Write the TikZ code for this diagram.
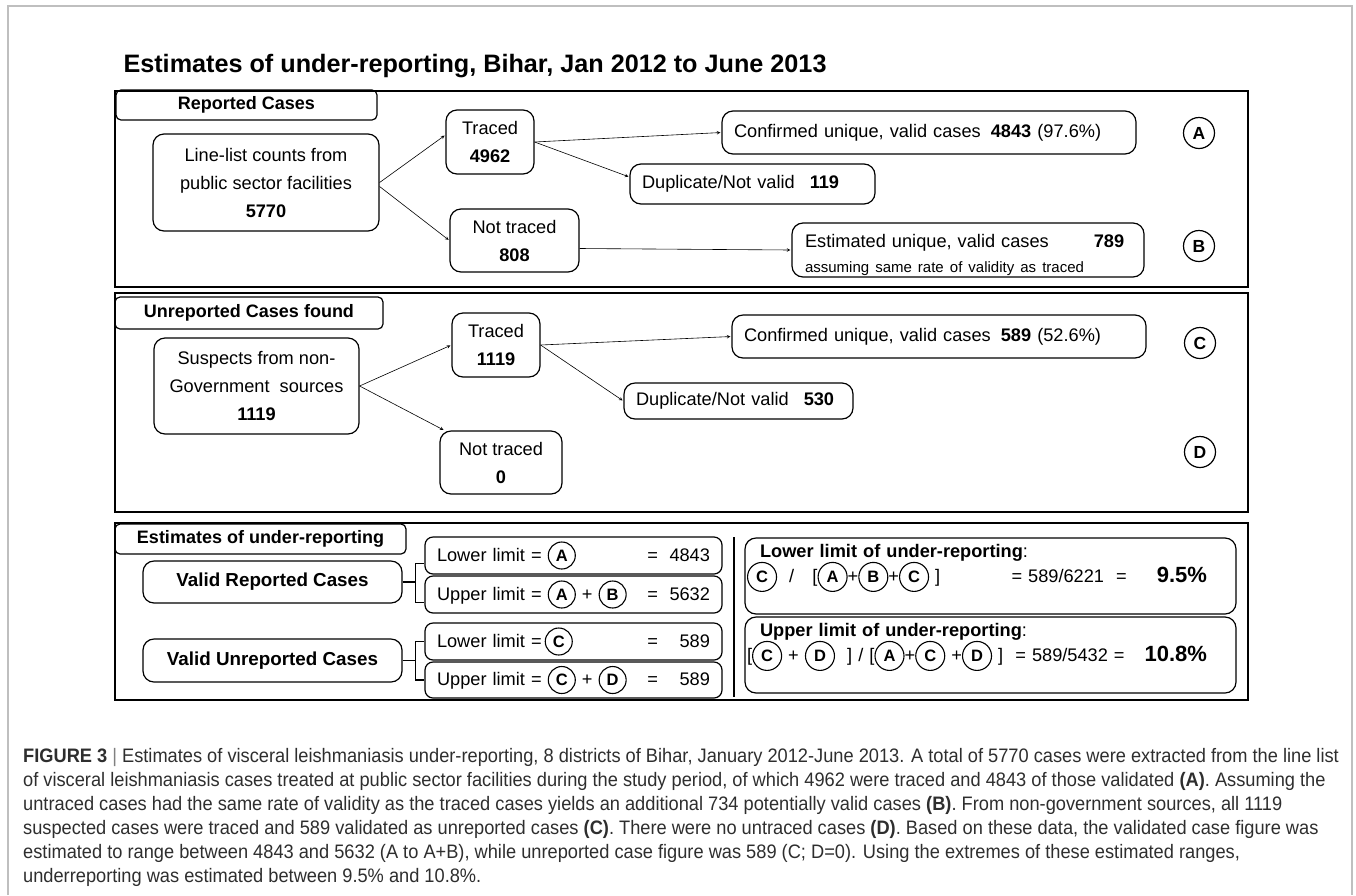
\documentclass[tikz,border=0pt]{standalone}
\usepackage{fontspec}
\setmainfont{Liberation Sans}
\newfontfamily\capfont[FakeStretch=0.935]{Liberation Sans}
\usetikzlibrary{positioning}

% small circled letter used inside the formula boxes
\newcommand{\circlbl}[2][27pt]{\tikz[baseline=(o.base)]\node[circle,draw,line width=1.1pt,inner sep=0pt,minimum size=#1,font=\bfseries\fontsize{16.5}{16}\selectfont] (o) {#2};}

\begin{document}
\begin{tikzpicture}[x=1pt,y=-1pt,>=stealth,
  panel/.style={draw,line width=1.4pt},
  hdr/.style={draw,rounded corners=5pt,line width=1.2pt,inner sep=0pt,font=\bfseries\fontsize{18}{20}\selectfont},
  box/.style={draw,rounded corners=11pt,line width=1.2pt,inner sep=0pt,align=center,font=\fontsize{18.2}{28}\selectfont},
  lbox/.style={box,align=left,inner xsep=12pt},
  lim/.style={box,rounded corners=8pt,align=left,inner xsep=12pt,text width=273pt,minimum height=37pt},
  frm/.style={box,align=left,inner xsep=2pt,text width=487pt,minimum height=76pt,font=\fontsize{18.2}{25}\selectfont},
  lbl/.style={circle,draw,line width=1.2pt,inner sep=0pt,minimum size=31pt,font=\bfseries\fontsize{17.5}{17}\selectfont},
  flow/.style={->,line width=0.6pt,shorten >=1pt}]
  \useasboundingbox (0,0) rectangle (1356,895);
  \draw[gray!50,line width=1.5pt] (8,895) -- (8,6) -- (1352,6) -- (1352,895);

  \node[anchor=base west,font=\bfseries\fontsize{25.2}{26}\selectfont] (title) at (120,72)
    {Estimates of under-reporting, Bihar, Jan 2012 to June 2013};

  % reported cases
  \draw[panel] (115,91) rectangle (1248,287);
  \node[hdr,minimum width=261pt,minimum height=30pt] (h1) at (246.5,105) {Reported Cases};
  \node[box,minimum width=226pt,minimum height=97pt] (ll) at (266,182.5)
    {Line-list counts from\\public sector facilities\\\textbf{5770}};
  \node[box,minimum width=88pt,minimum height=64pt] (tr1) at (490,142) {Traced\\\textbf{4962}};
  \node[box,minimum width=129pt,minimum height=63pt] (nt1) at (514.5,240.5) {Not traced\\\textbf{808}};
  \node[lbox,text width=390pt,minimum height=43pt] (va) at (929,132.5)
    {Confirmed unique, valid cases\hspace{10pt}\textbf{4843} (97.6\%)};
  \node[lbox,text width=221pt,minimum height=40pt] (dup1) at (752.5,184)
    {Duplicate/Not valid\hspace{15pt}\textbf{119}};
  \node[lbox,inner xsep=13pt,text width=326pt,minimum height=54pt,font=\fontsize{18.2}{26}\selectfont] (vb) at (968,250)
    {\rule{0pt}{23pt}Estimated unique, valid cases\hspace{45pt}\textbf{789}\\[-1pt]{\fontsize{15}{16}\selectfont assuming same rate of validity as traced}};
  \node[lbl] (A) at (1199,133) {A};
  \node[lbl] (B) at (1199,246) {B};

  \path[flow] (ll.east) edge ([yshift=7pt]tr1.west)
        ([yshift=-4pt]ll.east) edge (nt1.west)
        (tr1.east) edge (va.west)
        (tr1.east) edge ([yshift=7pt]dup1.west)
        ([yshift=-8pt]nt1.east) edge (vb.west);

  % unreported cases
  \draw[panel] (115,293) rectangle (1248,512);
  \node[hdr,minimum width=268pt,minimum height=32pt] (h2) at (249,313) {Unreported Cases found};
  \node[box,minimum width=205pt,minimum height=96pt] (su) at (256.5,386)
    {Suspects from non-\\Government\ \ sources\\\textbf{1119}};
  \node[box,minimum width=88pt,minimum height=64pt] (tr2) at (496,345) {Traced\\\textbf{1119}};
  \node[box,minimum width=122pt,minimum height=63pt] (nt2) at (501,462.5) {Not traced\\\textbf{0}};
  \node[lbox,text width=390pt,minimum height=43pt] (vc) at (939,336.5)
    {Confirmed unique, valid cases\hspace{10pt}\textbf{589} (52.6\%)};
  \node[lbox,text width=205pt,minimum height=36pt] (dup2) at (738.5,401)
    {Duplicate/Not valid\hspace{15pt}\textbf{530}};
  \node[lbl] (C) at (1200,343) {C};
  \node[lbl] (D) at (1200,452) {D};

  \path[flow] (su.east) edge (tr2.west)
        (su.east) edge ([xshift=5pt]nt2.north west)
        (tr2.east) edge (vc.west)
        (tr2.east) edge (dup2.west);

  % estimates
  \draw[panel] (115,523) rectangle (1248,700);
  \node[hdr,minimum width=291pt,minimum height=30pt] (h3) at (260.5,539) {Estimates of under-reporting};
  \node[box,minimum width=259pt,minimum height=42pt,font=\bfseries\fontsize{18.8}{20}\selectfont] (vrc) at (272.5,582) {Valid Reported Cases};
  \node[box,minimum width=259pt,minimum height=43pt,font=\bfseries\fontsize{18.8}{20}\selectfont] (vuc) at (272.5,660.5) {Valid Unreported Cases};
  \node[lim] (lla) at (573.5,555.5) {Lower limit = \circlbl{A}\hfill=\makebox[52pt][r]{4843}};
  \node[lim] (ula) at (573.5,594.5) {Upper limit = \circlbl{A} + \circlbl{B}\hfill=\makebox[52pt][r]{5632}};
  \node[lim] (llc) at (573.5,641.5) {Lower limit =\,\circlbl{C}\hfill=\makebox[52pt][r]{589}};
  \node[lim,minimum height=36pt] (ulc) at (573.5,680) {Upper limit = \circlbl{C} + \circlbl{D}\hfill=\makebox[52pt][r]{589}};

  \draw[line width=1.2pt] (vrc.east) -- ++(13,0) |- ([yshift=-8pt]lla.west)
        (vrc.east) ++(13,0) |- ([yshift=-8pt]ula.west);
  \draw[line width=1.2pt] (vuc.east) -- ++(13,0) |- (llc.west)
        (vuc.east) ++(13,0) |- (ulc.west);
  \draw[line width=2.5pt] (734,537) -- (734,697);

  \node[frm] (lur) at (990.5,576)
    {\hspace*{13pt}\textbf{Lower limit of under-reporting}:\\
     \circlbl[29pt]{C}\ \ /\ \ \ {[}\circlbl[29pt]{A}+\circlbl[29pt]{B}+\circlbl[29pt]{C}\ ]\hfill= 589/6221\ \ =\hspace{30pt}{\bfseries\fontsize{22}{22}\selectfont 9.5\%}\hspace{27pt}\mbox{}\\ \mbox{}};
  \node[frm] (uur) at (990.5,655)
    {\hspace*{13pt}\textbf{Upper limit of under-reporting}:\\
     {[}\circlbl[29pt]{C}\ +\ \circlbl[29pt]{D}\ \ ]\ /\ [\circlbl[29pt]{A}+\circlbl[29pt]{C}\ +\circlbl[29pt]{D}\ ]\ \ = 589/5432 =\hfill{\bfseries\fontsize{22}{22}\selectfont 10.8\%}\hspace{27pt}\mbox{}\\ \mbox{}};

  % caption
  \begin{scope}[every node/.style={anchor=base west,inner sep=0pt,text=black!82,font=\capfont\fontsize{19.5}{20}\selectfont}]
    \node (cap1) at (23,762) {\textbf{FIGURE 3} {\color{gray}|} Estimates of visceral leishmaniasis under-reporting, 8 districts of Bihar, January 2012-June 2013. A total of 5770 cases were extracted from the line list};
    \node (cap2) at (23,786) {of visceral leishmaniasis cases treated at public sector facilities during the study period, of which 4962 were traced and 4843 of those validated \textbf{(A)}. Assuming the};
    \node (cap3) at (23,810) {untraced cases had the same rate of validity as the traced cases yields an additional 734 potentially valid cases \textbf{(B)}. From non-government sources, all 1119};
    \node (cap4) at (23,834) {suspected cases were traced and 589 validated as unreported cases \textbf{(C)}. There were no untraced cases \textbf{(D)}. Based on these data, the validated case figure was};
    \node (cap5) at (23,858) {estimated to range between 4843 and 5632 (A to A+B), while unreported case figure was 589 (C; D=0). Using the extremes of these estimated ranges,};
    \node (cap6) at (23,882) {underreporting was estimated between 9.5\% and 10.8\%.};
  \end{scope}
\end{tikzpicture}
\end{document}
